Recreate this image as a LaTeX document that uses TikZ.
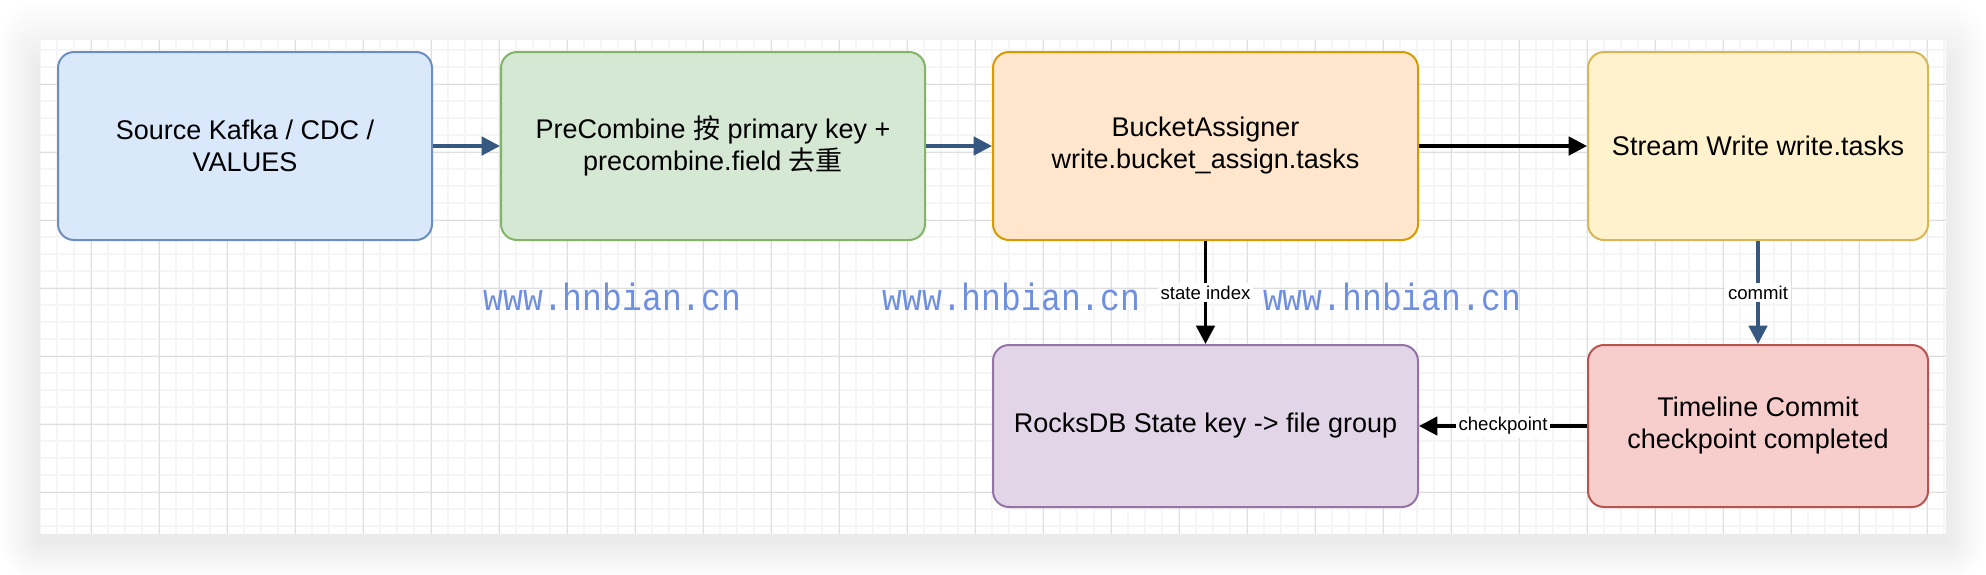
\documentclass[tikz,border=0pt]{standalone}
\usepackage{fontspec}
\setmainfont{Liberation Sans}
\newfontfamily\cjkfont{Noto Sans CJK SC}
\newfontfamily\markfont{Liberation Mono}
\usepackage{xcolor}
\usepackage{tikz}
\usetikzlibrary{arrows.meta,positioning,calc}
\definecolor{SrcFill}{HTML}{DAE8FC}
\definecolor{SrcLine}{HTML}{6C8EBF}
\definecolor{CombFill}{HTML}{D5E8D4}
\definecolor{CombLine}{HTML}{82B366}
\definecolor{BucketFill}{HTML}{FFE6CC}
\definecolor{BucketLine}{HTML}{D79B00}
\definecolor{WriteFill}{HTML}{FFF2CC}
\definecolor{WriteLine}{HTML}{D6B656}
\definecolor{StateFill}{HTML}{E1D5E7}
\definecolor{StateLine}{HTML}{9673A6}
\definecolor{CommitFill}{HTML}{F8CECC}
\definecolor{CommitLine}{HTML}{B85450}
\definecolor{FlowBlue}{HTML}{36577F}
\definecolor{MarkBlue}{HTML}{6F8FE0}
\definecolor{GridMinor}{HTML}{F5F5F5}
\definecolor{GridMajor}{HTML}{DEDEDE}

\begin{document}
\begin{tikzpicture}[x=0.5pt,y=-0.5pt,
		box/.style={draw,line width=1pt,rounded corners=8pt,align=center,inner sep=0pt,font=\fontsize{13.5}{16}\selectfont},
		flow/.style={line width=1.8pt,-{Triangle[length=9.2pt,width=9.2pt]}},
		edgelabel/.style={fill=white,text=black,inner sep=1.5pt,font=\fontsize{9.3}{11}\selectfont},
		watermark/.style={text=MarkBlue,inner sep=0pt,font=\markfont\fontsize{19}{21}\selectfont},
		gridminor/.style={GridMinor,line width=1pt},
		gridmajor/.style={GridMajor,line width=0.5pt}]
		\useasboundingbox (0,0) rectangle (1986,574);
		\fill[white] (0,0) rectangle (1986,574);
		\foreach \i in {1,...,20}
			\fill[black,opacity=0.0045,rounded corners=\i pt] (40-2*\i,70-3.5*\i) rectangle (1946+2*\i,540+2*\i);
		\fill[white] (40,40) rectangle (1946,534);
		\begin{scope}
			\clip (40,40) rectangle (1946,534);
			\foreach \gx in {40.3,57.3,...,1946} \draw[gridminor] (\gx,40) -- (\gx,534);
			\foreach \gy in {50.3,67.3,...,534} \draw[gridminor] (40,\gy) -- (1946,\gy);
			\foreach \gx in {91.3,159.3,...,1946} \draw[gridmajor] (\gx,40) -- (\gx,534);
			\foreach \gy in {84.3,152.3,...,534} \draw[gridmajor] (40,\gy) -- (1946,\gy);
		\end{scope}

		\node[box,fill=SrcFill,draw=SrcLine,minimum width=187pt,minimum height=94pt] (src) at (245,146) {Source Kafka / CDC /\\VALUES};
		\node[box,fill=CombFill,draw=CombLine,minimum width=212pt,minimum height=94pt] (precomb) at (713,146) {PreCombine {\cjkfont 按} primary key +\\precombine.field {\cjkfont 去重}};
		\node[box,fill=BucketFill,draw=BucketLine,minimum width=212.5pt,minimum height=94pt] (bucket) at (1205.5,146) {BucketAssigner\\write.bucket\_assign.tasks};
		\node[box,fill=WriteFill,draw=WriteLine,minimum width=170pt,minimum height=94pt] (streamwrite) at (1758,146) {Stream Write write.tasks};
		\node[box,fill=StateFill,draw=StateLine,minimum width=212.5pt,minimum height=81pt] (rocksdb) at (1205.5,426) {RocksDB State key -> file group};
		\node[box,fill=CommitFill,draw=CommitLine,minimum width=170pt,minimum height=81pt] (timeline) at (1758,426) {Timeline Commit\\checkpoint completed};

		\draw[flow,FlowBlue] (src) -- (precomb);
		\draw[flow,FlowBlue] (precomb) -- (bucket);
		\draw[flow,black] (bucket) -- (streamwrite);
		\draw[flow,black] (bucket) -- node[edgelabel] {state index} (rocksdb);
		\draw[flow,FlowBlue] (streamwrite) -- node[edgelabel] {commit} (timeline);
		\draw[flow,black] (timeline) -- node[edgelabel] {checkpoint} (rocksdb);

		\node[watermark,anchor=base] (wm1) at (612.5,310.7) {\scalebox{0.87}[1]{www.hnbian.cn}};
		\node[watermark,anchor=base] (wm2) at (1011.5,310.7) {\scalebox{0.87}[1]{www.hnbian.cn}};
		\node[watermark,anchor=base] (wm3) at (1392,310.7) {\scalebox{0.87}[1]{www.hnbian.cn}};
	\end{tikzpicture}
\end{document}
